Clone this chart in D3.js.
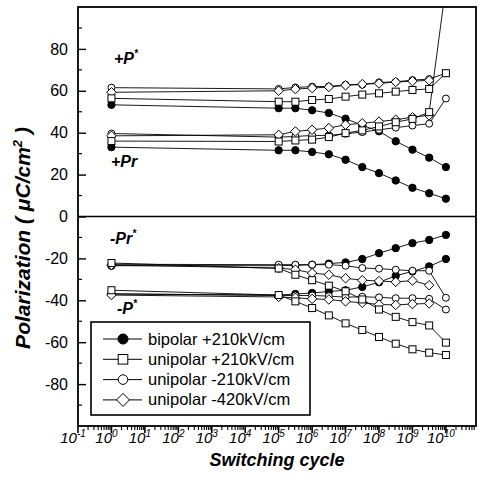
<!DOCTYPE html>
<html>
<head>
<meta charset="utf-8">
<script src="https://cdn.jsdelivr.net/npm/d3@7"></script>
<style>
  body{margin:0;background:#fff;}
  svg text{font-family:"Liberation Sans",Arial,sans-serif;fill:#000;}
</style>
</head>
<body>
<div class="graph"></div>
<script>
// switching cycles (1, then every half decade from 1e5 to 1e10)
var cycles = [1, 1e5, 3.16e5, 1e6, 3.16e6, 1e7, 3.16e7, 1e8, 3.16e8, 1e9, 3.16e9, 1e10];

// bipolar +210kV/cm (filled circle)
var bipolarPs  = [53.3, 51.7, 51.7, 50.7, 49.4, 46.7, 43.5, 40.7, 35.9, 31.9, 28.1, 23.6];
var bipolarPr  = [33.1, 31.6, 31.6, 30.8, 29.7, 27.1, 23.6, 20.7, 17.2, 13.7, 11.1, 8.5];
var bipolarNPr = [-23.5, -23.5, -23.3, -23.0, -22.5, -21.9, -20.3, -17.5, -15.1, -12.7, -11.2, -8.8];
var bipolarNPs = [-37.0, -37.5, -37.0, -36.5, -35.8, -35.2, -33.6, -31.4, -28.3, -26.2, -23.8, -20.3];
// unipolar +210kV/cm (open square)
var uniPosPs  = [56.4, 54.8, 54.8, 55.6, 56.1, 57.2, 58.2, 58.8, 59.6, 60.4, 60.9, 68.4];
var uniPosPr  = [36.0, 35.8, 36.3, 36.7, 37.9, 39.8, 41.1, 43.0, 45.0, 46.6, 49.8, 110];
var uniPosNPr = [-22.2, -24.8, -27.8, -30.4, -33.0, -35.7, -39.6, -44.4, -47.9, -50.4, -52.0, -60.2];
var uniPosNPs = [-35.2, -37.5, -40.5, -43.7, -47.2, -51.0, -54.2, -57.5, -60.7, -63.4, -65.0, -66.1];
// unipolar -210kV/cm (open circle)
var uniNegPs  = [61.5, 60.9, 61.6, 62.0, 62.1, 62.9, 62.9, 64.0, 64.3, 65.1, 65.6, 68.4];
var uniNegPr  = [39.6, 37.9, 38.2, 38.7, 38.7, 39.5, 40.3, 41.4, 42.4, 43.4, 44.3, 56.3];
var uniNegNPr = [-22.8, -23.0, -23.0, -23.0, -23.0, -23.5, -24.6, -24.9, -25.4, -25.9, -25.9, -38.8];
var uniNegNPs = [-36.9, -37.7, -37.7, -37.7, -38.0, -38.5, -38.3, -38.6, -39.0, -39.0, -39.3, -44.4];
// unipolar -420kV/cm (open diamond), no point at 1e10
var uni420Ps  = [59.3, 60.0, 60.8, 61.3, 61.8, 62.6, 63.2, 63.5, 64.2, 64.6, 65.0];
var uni420Pr  = [38.5, 39.0, 40.6, 41.4, 42.2, 43.8, 44.5, 45.3, 46.2, 47.4, 48.3];
var uni420NPr = [-23.2, -24.6, -25.4, -27.0, -27.8, -29.5, -30.4, -30.8, -31.2, -30.6, -32.8];
var uni420NPs = [-37.5, -38.4, -38.8, -39.3, -39.6, -40.5, -41.2, -42.0, -42.2, -41.8, -41.5];

var legendLabels = ["bipolar +210kV/cm", "unipolar +210kV/cm", "unipolar -210kV/cm", "unipolar -420kV/cm"];
var yTicks = [-80, -60, -40, -20, 0, 20, 40, 60, 80];
var yMinor = [-90, -70, -50, -30, -10, 10, 30, 50, 70, 90];
var xExps = [-1, 0, 1, 2, 3, 4, 5, 6, 7, 8, 9, 10];

var W = 480, H = 497;
var pLeft = 78, pRight = 476, pTop = 7, pBottom = 426;

var svg = d3.select(".graph").append("svg").attr("width", W).attr("height", H);

var x = d3.scaleLog().domain([0.1, Math.pow(10, 10.9)]).range([pLeft, pRight]);
var y = d3.scaleLinear().domain([-100, 100]).range([pBottom, pTop]);

var series = [
  {shape: "filled",  groups: [bipolarPs, bipolarPr, bipolarNPr, bipolarNPs]},
  {shape: "circle",  groups: [uniNegPs, uniNegPr, uniNegNPr, uniNegNPs]},
  {shape: "diamond", groups: [uni420Ps, uni420Pr, uni420NPr, uni420NPs]},
  {shape: "square",  groups: [uniPosPs, uniPosPr, uniPosNPr, uniPosNPs]}
];
var legendOrder = ["filled", "square", "circle", "diamond"];

svg.append("clipPath").attr("id", "plotclip")
  .append("rect").attr("x", pLeft).attr("y", pTop).attr("width", pRight - pLeft).attr("height", pBottom - pTop);

function drawMarker(g, shape, cx, cy, s){
  if(shape == "filled"){
    g.append("circle").attr("cx", cx).attr("cy", cy).attr("r", s * 1.05)
      .style("fill", "#000").style("stroke", "#000");
  } else if(shape == "circle"){
    g.append("circle").attr("cx", cx).attr("cy", cy).attr("r", s)
      .style("fill", "#fff").style("stroke", "#000").style("stroke-width", 1);
  } else if(shape == "square"){
    g.append("rect").attr("x", cx - s).attr("y", cy - s).attr("width", 2 * s).attr("height", 2 * s)
      .style("fill", "#fff").style("stroke", "#000").style("stroke-width", 1);
  } else {
    var d = s * 1.35;
    g.append("path").attr("d", "M" + cx + "," + (cy - d) + "L" + (cx + d) + "," + cy + "L" + cx + "," + (cy + d) + "L" + (cx - d) + "," + cy + "Z")
      .style("fill", "#fff").style("stroke", "#000").style("stroke-width", 1);
  }
}

var line = d3.line().x(function(d){ return x(d[0]); }).y(function(d){ return y(d[1]); });

var plot = svg.append("g").attr("clip-path", "url(#plotclip)");

// lines first
series.forEach(function(s){
  s.groups.forEach(function(vals){
    var pts = vals.map(function(v, i){ return [cycles[i], v]; });
    plot.append("path").attr("d", line(pts))
      .style("fill", "none").style("stroke", "#000").style("stroke-width", 0.9);
  });
});
// then markers
series.forEach(function(s){
  s.groups.forEach(function(vals){
    vals.forEach(function(v, i){
      if(v > 100) return;
      drawMarker(plot, s.shape, x(cycles[i]), y(v), 3.5);
    });
  });
});

// frame and zero line
svg.append("rect").attr("x", pLeft).attr("y", pTop).attr("width", pRight - pLeft).attr("height", pBottom - pTop)
  .style("fill", "none").style("stroke", "#000").style("stroke-width", 1.8);
svg.append("line").attr("x1", pLeft).attr("x2", pRight).attr("y1", y(0)).attr("y2", y(0))
  .style("stroke", "#000").style("stroke-width", 1.6);

// y axis, ticks pointing inward
var yAxis = svg.append("g").attr("transform", "translate(" + pLeft + ",0)")
  .call(d3.axisLeft(y).tickValues(yTicks).tickSize(-8).tickPadding(10).tickFormat(function(d){ return String(d); }));
yAxis.select(".domain").remove();
yAxis.selectAll("line").style("stroke-width", 1.4);
yAxis.selectAll("text").style("font-size", "16px").style("font-family", "'Liberation Sans',Arial,sans-serif");
svg.append("g").selectAll("line").data(yMinor).enter().append("line")
  .attr("x1", pLeft).attr("x2", pLeft + 4).attr("y1", function(d){ return y(d); }).attr("y2", function(d){ return y(d); })
  .style("stroke", "#000").style("stroke-width", 1.2);

// x axis, log ticks pointing outward
var minor = [];
xExps.forEach(function(e){
  for(var k = 2; k <= 9; k++){
    var v = k * Math.pow(10, e);
    if(x(v) <= pRight) minor.push(v);
  }
});
var xAxis = svg.append("g");
xAxis.selectAll(".maj").data(xExps).enter().append("line")
  .attr("x1", function(d){ return x(Math.pow(10, d)); }).attr("x2", function(d){ return x(Math.pow(10, d)); })
  .attr("y1", pBottom).attr("y2", pBottom + 7)
  .style("stroke", "#000").style("stroke-width", 1.6);
xAxis.selectAll(".min").data(minor).enter().append("line")
  .attr("x1", function(d){ return x(d); }).attr("x2", function(d){ return x(d); })
  .attr("y1", pBottom).attr("y2", pBottom + 4)
  .style("stroke", "#000").style("stroke-width", 1.1);
var xl = xAxis.selectAll(".lab").data(xExps).enter().append("text")
  .attr("x", function(d){ return x(Math.pow(10, d)) - 5; })
  .attr("y", pBottom + 17)
  .attr("text-anchor", "middle")
  .style("font-size", "15px").style("font-style", "italic");
xl.append("tspan").text("10");
xl.append("tspan").attr("dy", -6).style("font-size", "10px").text(function(d){ return d; });

// axis titles
svg.append("text").attr("x", (pLeft + pRight) / 2).attr("y", 466).attr("text-anchor", "middle")
  .style("font-size", "18px").style("font-weight", "bold").style("font-style", "italic")
  .text("Switching cycle");
var yt = svg.append("text").attr("transform", "translate(30,238) rotate(-90)").attr("text-anchor", "middle")
  .style("font-size", "21px").style("font-weight", "bold").style("font-style", "italic");
yt.append("tspan").text("Polarization ( \u03BCC/cm");
yt.append("tspan").attr("dy", -8).style("font-size", "13px").text("2");
yt.append("tspan").attr("dy", 8).text(" )");

// group labels
function groupLabel(tx, ty, main, star){
  var t = svg.append("text").attr("x", tx).attr("y", ty)
    .style("font-size", "16px").style("font-weight", "bold").style("font-style", "italic");
  t.append("tspan").text(main);
  if(star){ t.append("tspan").attr("dy", -7).style("font-size", "10px").text("*"); }
}
groupLabel(114, 64, "+P", true);
groupLabel(111, 167, "+Pr", false);
groupLabel(110, 244, "-Pr", true);
groupLabel(117, 314, "-P", true);

// legend
var lg = svg.append("g");
lg.append("rect").attr("x", 91).attr("y", 322).attr("width", 219).attr("height", 93)
  .style("fill", "#fff").style("stroke", "#000").style("stroke-width", 1.6);
legendOrder.forEach(function(shape, i){
  var ly = 339 + i * 20.3;
  lg.append("line").attr("x1", 103).attr("x2", 142).attr("y1", ly).attr("y2", ly)
    .style("stroke", "#000").style("stroke-width", 1);
  drawMarker(lg, shape, 123, ly, 4.8);
  lg.append("text").attr("x", 148).attr("y", ly + 5.5).style("font-size", "16.5px").text(legendLabels[i]);
});
</script>
</body>
</html>
